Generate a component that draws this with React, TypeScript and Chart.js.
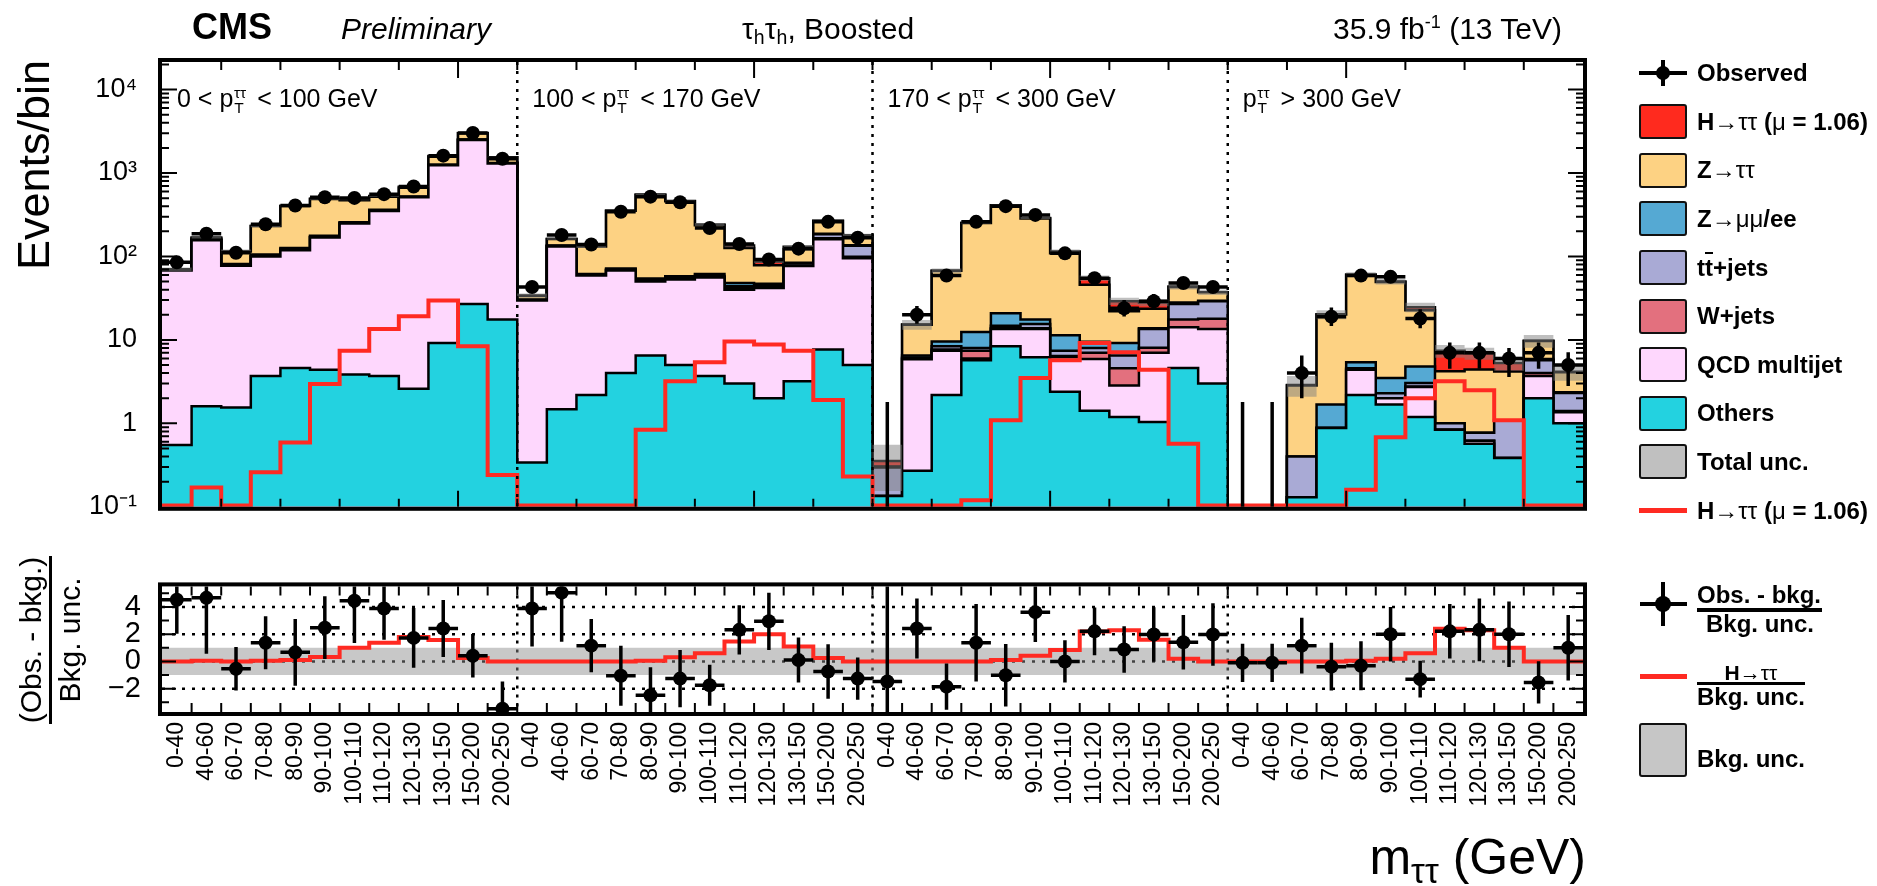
import React, { useEffect, useRef } from 'react';
import { Chart, registerables } from 'chart.js';

Chart.register(...registerables);

const FONT = "'Liberation Sans', Arimo, Arial, Helvetica, sans-serif";
Chart.defaults.font.family = FONT;

// ---------------- categories / labels ----------------
const binLabels = ['0-40', '40-60', '60-70', '70-80', '80-90', '90-100', '100-110', '110-120', '120-130', '130-150', '150-200', '200-250'];
const ptRanges = [
  { pre: '0 < ', post: ' < 100 GeV' },
  { pre: '100 < ', post: ' < 170 GeV' },
  { pre: '170 < ', post: ' < 300 GeV' },
  { pre: '', post: ' > 300 GeV' },
];
const categories = ptRanges.flatMap(() => binLabels);

// ---------------- stacked backgrounds (events / bin) ----------------
const others = [
  0.55, 1.6, 1.55, 3.7, 4.6, 4.4, 3.85, 3.7, 2.6, 9.2, 27, 17.6,
  0.34, 1.48, 2.19, 4.0, 6.5, 5.0, 3.7, 3.0, 2.0, 3.2, 7.7, 5.0,
  0.135, 0.27, 2.19, 5.7, 8.4, 6.2, 2.4, 1.42, 1.19, 1.04, 4.6, 3.0,
  0, 0, 0.13, 0.88, 2.19, 1.68, 1.19, 0.84, 0.57, 0.385, 2.0, 1.0,
];
const qcd = [
  67.4, 155, 76, 96, 114, 164, 245, 348, 509, 1232, 2462, 1280,
  29.3, 130.5, 56.8, 64, 43.5, 48, 52.3, 37, 40, 73.8, 153, 90,
  0, 5.6, 5.2, 0.3, 5.1, 7.3, 3.8, 4.5, 1.65, 6.0, 9.6, 10.5,
  0, 0, 0, 0, 2.2, 0.32, 1.53, 0, 0.05, 0, 1.7, 0.36,
];
const wjets = [
  0.3, 1, 1, 1.5, 2, 2, 2, 3, 3, 5, 8, 8,
  0.3, 1, 0.8, 1, 1, 1, 1, 2, 1, 1, 5, 4,
  0, 0.15, 0.3, 1.4, 0.3, 0.3, 0.2, 1.1, 1.73, 1.0, 3.4, 4.4,
  0, 0, 0, 0, 0, 0, 0.05, 0, 0, 0, 0.3, 0.05,
];
const ttbar = [
  0.3, 1, 1, 1.5, 2, 2, 2, 3, 3, 5, 8, 8,
  0.3, 1, 0.8, 1, 1, 1, 1.2, 2, 1.5, 5, 19, 35,
  0.16, 0.15, 0.7, 0.6, 1.0, 1.7, 1.0, 1.0, 1.93, 5.45, 9.4, 11.1,
  0, 0, 0.27, 0, 0.2, 0.3, 0.28, 0.16, 0.15, 0.7, 1.7, 0.9,
];
const zll = [
  0.4, 1.5, 1.5, 3, 4, 5, 5, 5, 4, 5, 8, 8,
  0.3, 1, 1.2, 1.5, 2.5, 3, 3.5, 4, 2.5, 1, 2, 2,
  0.005, 0.35, 1.2, 4.4, 6.1, 2.1, 4.0, 1.5, 2.7, 0.3, 1.0, 0.5,
  0, 0, 0, 0.8, 0.8, 1.2, 1.75, 0, 0, 0, 0.2, 0.05,
];
const ztt = [
  1.05, 7.9, 33.5, 126.3, 275.4, 310.6, 213, 155.3, 145.4, 312, 487, 224,
  3.2, 27, 70.2, 280.5, 493.5, 401, 174.3, 78, 31.5, 39, 79.3, 42.6,
  0.005, 8.7, 57.7, 239.6, 389, 268.4, 97.6, 36.2, 12.8, 9.9, 15, 7.8,
  0, 0, 2.44, 18.5, 55, 45.9, 17.8, 3.2, 3.66, 3.1, 3.8, 1.74,
];
const htt = [
  0.05, 0.17, 0.05, 0.26, 0.59, 2.97, 7.4, 13.5, 19.2, 29.6, 8.4, 0.24,
  0.05, 0.05, 0.05, 0.05, 0.84, 3.2, 5.4, 9.6, 8.8, 7.4, 1.9, 0.23,
  0.05, 0.05, 0.05, 0.12, 1.09, 3.5, 5.7, 9.2, 7.1, 4.4, 0.57, 0.05,
  0.05, 0.05, 0.05, 0.05, 0.16, 0.68, 2.0, 3.2, 2.5, 1.09, 0.05, 0.05,
];
const bkgUnc = [
  3.7, 4.0, 6.6, 8, 8.2, 9.8, 7.2, 10.3, 11.9, 19, 34, 19,
  2.3, 3.75, 6.05, 8.4, 11, 10, 9.9, 6.6, 4.6, 6.7, 8, 8.4,
  0.2, 2.0, 4.5, 5.65, 8.7, 8.0, 6.7, 4.2, 2.9, 2.7, 3.5, 2.9,
  0, 0, 0.8, 2.5, 4.3, 3.8, 3.2, 1.3, 1.15, 1.0, 1.7, 0.9,
];

// ---------------- observed ----------------
const observed = [
  85, 187, 111, 243, 408, 512, 503, 558, 688, 1614, 3015, 1480,
  43, 181, 139, 343, 521, 446, 219, 141, 92, 124, 260, 168,
  0, 20, 59, 260, 401, 315, 109, 55, 24, 29, 48, 43,
  0, 0, 4, 19, 59, 57, 18, 7, 7, 6, 7, 5,
];
const obsErrLo = [
  9.2, 13.7, 10.5, 15.6, 20.2, 22.6, 22.4, 23.6, 26.2, 40.2, 54.9, 38.5,
  6.6, 13.5, 11.8, 18.5, 22.8, 21.1, 14.8, 11.9, 9.6, 11.1, 16.1, 13.0,
  0, 4.4, 7.7, 16.1, 20.0, 17.7, 10.4, 7.4, 4.9, 5.4, 6.9, 6.6,
  0, 0, 2.0, 4.3, 7.7, 7.5, 4.2, 2.5, 2.5, 2.4, 2.5, 2.2,
];
const obsErrHi = [
  9.2, 13.7, 10.5, 15.6, 20.2, 22.6, 22.4, 23.6, 26.2, 40.2, 54.9, 38.5,
  7.6, 14.5, 12.8, 19.5, 23.8, 22.1, 15.8, 12.9, 10.6, 12.1, 17.1, 14.0,
  1.8, 5.5, 8.7, 17.1, 21.0, 18.7, 11.5, 8.5, 6.0, 6.4, 7.9, 7.6,
  1.8, 1.8, 2.5, 5.4, 8.7, 8.6, 5.3, 2.3, 2.3, 2.0, 2.3, 2.1,
];

// ---------------- ratio panel ----------------
const pull = [
  4.53, 4.67, -0.53, 1.37, 0.67, 2.48, 4.46, 3.89, 1.73, 2.42, 0.42, -3.47,
  3.89, 5.05, 1.16, -1.05, -2.48, -1.26, -1.75, 2.32, 2.95, 0.1, -0.74, -1.26,
  -1.47, 2.42, -1.85, 1.37, -1.01, 3.62, 0, 2.21, 0.88, 1.98, 1.41, 1.98,
  -0.1, -0.1, 1.16, -0.38, -0.32, 2.0, -1.3, 2.21, 2.32, 2.0, -1.54, 1.01,
];
const pullErr = [
  2.5, 4.1, 1.6, 1.95, 2.45, 2.3, 3.1, 2.3, 2.2, 2.1, 1.6, 2.0,
  2.8, 3.6, 1.95, 2.2, 2.06, 2.1, 1.5, 1.8, 2.1, 1.65, 2.0, 1.55,
  10, 2.2, 1.7, 2.85, 2.3, 2.2, 1.55, 1.75, 1.7, 2.0, 2.0, 2.3,
  1.4, 1.4, 2.05, 1.75, 1.8, 2.0, 1.35, 2.0, 2.3, 2.4, 1.55, 2.4,
];
const sigOverUnc = [
  0, 0.05, 0, 0.05, 0.1, 0.32, 1.0, 1.37, 1.8, 1.58, 0.25, 0,
  0, 0, 0, 0, 0.05, 0.3, 0.6, 1.47, 2.0, 1.1, 0.25, 0,
  0, 0, 0, 0, 0.1, 0.42, 0.84, 2.2, 2.3, 1.6, 0.2, 0,
  0, 0, 0, 0, 0.05, 0.2, 0.6, 2.4, 2.3, 1.0, 0, 0,
];
const ratioBand = [-1, 1];

// ---------------- ticks ----------------
const topTickValues = [0.1, 1, 10, 100, 1000, 10000];
const topTickLabels = ['10\u207B\u00B9', '1', '10', '10\u00B2', '10\u00B3', '10\u2074'];
const ratioTickValues = [-2, 0, 2, 4];
const ratioTickLabels = ['\u22122', '0', '2', '4'];

// ---------------- styles ----------------
const stackComponents = [others, qcd, wjets, ttbar, zll, ztt, htt];
const stackNames = ['Others', 'QCD multijet', 'W+jets', 'tt\u0304+jets', 'Z\u2192\u03BC\u03BC/ee', 'Z\u2192\u03C4\u03C4', 'H\u2192\u03C4\u03C4'];
const stackColors = ['#23D2E0', '#FED7FD', '#E3707E', '#A9AAD5', '#55A9D3', '#FDD283', '#FF2A1E'];
const SIG_RED = '#FF2A22';

const legendLabels = ['Observed', 'H\u2192\u03C4\u03C4 (\u03BC = 1.06)', 'Z\u2192\u03C4\u03C4', 'Z\u2192\u03BC\u03BC/ee', 'tt\u0304+jets', 'W+jets', 'QCD multijet', 'Others', 'Total unc.', 'H\u2192\u03C4\u03C4 (\u03BC = 1.06)'];
const legendKinds = ['marker', 'box', 'box', 'box', 'box', 'box', 'box', 'box', 'box', 'line'];
const legendColors = ['#000', '#FF2A1E', '#FDD283', '#55A9D3', '#A9AAD5', '#E3707E', '#FED7FD', '#23D2E0', '#C0C0C0', SIG_RED];

// ---------------- geometry ----------------
const W = 1877;
const TOP_H = 548;
const BOT_H = 338;
const PLOT_L = 162;
const PLOT_R = 1583;
const TOP_T = 62;
const TOP_B = 531;
const BOT_T = 566;
const BOT_B = 712;
const Y_MIN = 0.1;
const Y_MAX = 21400;
const R_MIN = -3.71;
const R_MAX = 5.51;
const NB = categories.length;
const PB = binLabels.length;

const steps = (vals: number[]) => {
  const pts = vals.map((v, i) => ({ x: i, y: v }));
  pts.push({ x: vals.length, y: vals[vals.length - 1] });
  return pts;
};
const pos = (v: number) => (v > 0 ? v : 1e-4);

function clipArea(ctx: CanvasRenderingContext2D, a: any) {
  ctx.beginPath();
  ctx.rect(a.left, a.top, a.right - a.left, a.bottom - a.top);
  ctx.clip();
}

function drawFrame(chart: any, xTicks: { v: number; len: number }[], yTicks: { v: number; len: number }[]) {
  const { ctx, chartArea: a, scales } = chart;
  const x = scales.x;
  const y = scales.y;
  ctx.save();
  ctx.strokeStyle = '#000';
  ctx.lineWidth = 2;
  ctx.setLineDash([]);
  for (const t of xTicks) {
    const px = x.getPixelForValue(t.v);
    ctx.beginPath();
    ctx.moveTo(px, a.top);
    ctx.lineTo(px, a.top + t.len);
    ctx.moveTo(px, a.bottom);
    ctx.lineTo(px, a.bottom - t.len);
    ctx.stroke();
  }
  for (const t of yTicks) {
    const py = y.getPixelForValue(t.v);
    ctx.beginPath();
    ctx.moveTo(a.left, py);
    ctx.lineTo(a.left + t.len, py);
    ctx.moveTo(a.right, py);
    ctx.lineTo(a.right - t.len, py);
    ctx.stroke();
  }
  ctx.lineWidth = 4;
  ctx.strokeRect(a.left - 2, a.top - 2, a.right - a.left + 4, a.bottom - a.top + 4);
  ctx.restore();
}

function drawDividers(chart: any) {
  const { ctx, chartArea: a, scales } = chart;
  ctx.save();
  ctx.strokeStyle = '#000';
  ctx.lineWidth = 2.5;
  ctx.setLineDash([3, 6]);
  for (let p = 1; p < ptRanges.length; p++) {
    const xp = scales.x.getPixelForValue(p * PB);
    ctx.beginPath();
    ctx.moveTo(xp, a.top);
    ctx.lineTo(xp, a.bottom);
    ctx.stroke();
  }
  ctx.restore();
}

function topConfig(): any {
  const cums: number[][] = [];
  stackComponents.forEach((c, k) => cums.push(c.map((v, i) => v + (k ? cums[k - 1][i] : 0))));
  const total = cums[cums.length - 1];
  const stackSets = cums.map((vals, k) => ({
    label: stackNames[k],
    data: steps(vals.map(pos)),
    stepped: 'before',
    fill: 'start',
    backgroundColor: stackColors[k],
    borderColor: '#000',
    borderWidth: 2.5,
    pointRadius: 0,
    order: 4 + k,
  }));
  const datasets = [
    {
      label: 'Observed',
      data: observed.map((v, i) => ({ x: i + 0.5, y: v > 0 ? v : null })),
      showLine: false,
      pointRadius: 7,
      pointHoverRadius: 7,
      pointBackgroundColor: '#000',
      pointBorderColor: '#000',
      pointBorderWidth: 0,
      order: 0,
    },
    {
      label: 'H line',
      data: steps(htt.map((v) => Math.max(v, Y_MIN * 1.04))),
      stepped: 'before',
      fill: false,
      borderColor: SIG_RED,
      borderWidth: 4,
      pointRadius: 0,
      order: 1,
    },
    {
      label: 'Total unc. up',
      data: steps(total.map((v, i) => pos(v + bkgUnc[i]))),
      stepped: 'before',
      fill: '+1',
      backgroundColor: 'rgba(128,128,128,0.5)',
      borderColor: 'transparent',
      borderWidth: 0,
      pointRadius: 0,
      order: 2,
    },
    {
      label: 'Total unc. down',
      data: steps(total.map((v, i) => pos(v - bkgUnc[i]))),
      stepped: 'before',
      fill: false,
      borderColor: 'transparent',
      borderWidth: 0,
      pointRadius: 0,
      order: 3,
    },
    ...stackSets,
  ];

  const xTicks: { v: number; len: number }[] = [];
  for (let k = 2; k < NB; k += 2) xTicks.push({ v: k, len: k % 10 === 0 ? 16 : 8 });
  const yTicks: { v: number; len: number }[] = [];
  for (let d = -1; d <= 4; d++) {
    for (let m = 1; m <= 9; m++) {
      const v = m * Math.pow(10, d);
      if (v > Y_MIN * 1.001 && v < Y_MAX) yTicks.push({ v, len: m === 1 ? 15 : 7 });
    }
  }

  const deco = {
    id: 'topDeco',
    afterDatasetsDraw(chart: any) {
      const { ctx, chartArea: a, scales } = chart;
      const x = scales.x;
      const y = scales.y;
      ctx.save();
      clipArea(ctx, a);
      ctx.strokeStyle = '#000';
      ctx.lineWidth = 3.5;
      observed.forEach((v, i) => {
        const xc = x.getPixelForValue(i + 0.5);
        const lo = v - obsErrLo[i];
        const yLo = lo > 0 ? y.getPixelForValue(lo) : a.bottom + 5;
        const yHi = y.getPixelForValue(v + obsErrHi[i]);
        ctx.beginPath();
        ctx.moveTo(xc, yLo);
        ctx.lineTo(xc, yHi);
        ctx.stroke();
        if (v > 0) {
          const yc = y.getPixelForValue(v);
          ctx.beginPath();
          ctx.moveTo(x.getPixelForValue(i), yc);
          ctx.lineTo(x.getPixelForValue(i + 1), yc);
          ctx.stroke();
        }
      });
      ctx.restore();
      drawDividers(chart);
    },
    afterDraw(chart: any) {
      drawFrame(chart, xTicks, yTicks);
    },
  };

  return {
    type: 'line',
    data: { datasets },
    options: {
      animation: false,
      responsive: false,
      maintainAspectRatio: false,
      events: [],
      layout: { padding: { left: 0, right: W - PLOT_R, top: TOP_T, bottom: TOP_H - TOP_B } },
      scales: {
        x: { type: 'linear', min: 0, max: NB, display: false },
        y: {
          type: 'logarithmic',
          min: Y_MIN,
          max: Y_MAX,
          afterFit: (s: any) => {
            s.width = PLOT_L;
          },
          afterBuildTicks: (s: any) => {
            s.ticks = topTickValues.map((v) => ({ value: v }));
          },
          grid: { display: false, drawTicks: false },
          border: { display: false },
          ticks: {
            autoSkip: false,
            callback: (_v: any, i: number) => topTickLabels[i],
            font: { family: FONT, size: 27 },
            color: '#000',
            padding: 25,
          },
        },
      },
      plugins: { legend: { display: false }, tooltip: { enabled: false } },
    },
    plugins: [deco],
  };
}

function bottomConfig(): any {
  const datasets = [
    {
      label: 'Obs. - bkg.',
      data: pull.map((v, i) => ({ x: i + 0.5, y: v })),
      showLine: false,
      pointRadius: 7,
      pointHoverRadius: 7,
      pointBackgroundColor: '#000',
      pointBorderColor: '#000',
      pointBorderWidth: 0,
      order: 0,
    },
    {
      label: 'H/unc',
      data: steps(sigOverUnc),
      stepped: 'before',
      fill: false,
      borderColor: SIG_RED,
      borderWidth: 4,
      pointRadius: 0,
      order: 1,
    },
    {
      label: 'Bkg. unc. up',
      data: [{ x: 0, y: ratioBand[1] }, { x: NB, y: ratioBand[1] }],
      fill: '+1',
      backgroundColor: 'rgba(140,140,140,0.48)',
      borderColor: 'transparent',
      borderWidth: 0,
      pointRadius: 0,
      order: 2,
    },
    {
      label: 'Bkg. unc. down',
      data: [{ x: 0, y: ratioBand[0] }, { x: NB, y: ratioBand[0] }],
      fill: false,
      borderColor: 'transparent',
      borderWidth: 0,
      pointRadius: 0,
      order: 3,
    },
  ];

  const xTicks: { v: number; len: number }[] = [];
  for (let k = 1; k < NB; k++) xTicks.push({ v: k, len: 9 });
  const yTicks: { v: number; len: number }[] = [];
  for (let k = -3; k <= 5; k++) yTicks.push({ v: k, len: k % 2 === 0 ? 14 : 7 });

  const deco = {
    id: 'ratioDeco',
    beforeDatasetsDraw(chart: any) {
      const { ctx, chartArea: a, scales } = chart;
      ctx.save();
      ctx.strokeStyle = '#000';
      ctx.lineWidth = 2.5;
      ctx.setLineDash([3, 7]);
      ratioTickValues.forEach((v) => {
        const py = scales.y.getPixelForValue(v);
        ctx.beginPath();
        ctx.moveTo(a.left, py);
        ctx.lineTo(a.right, py);
        ctx.stroke();
      });
      ctx.restore();
      drawDividers(chart);
    },
    afterDatasetsDraw(chart: any) {
      const { ctx, chartArea: a, scales } = chart;
      const x = scales.x;
      const y = scales.y;
      ctx.save();
      clipArea(ctx, a);
      ctx.strokeStyle = '#000';
      ctx.lineWidth = 3.5;
      pull.forEach((v, i) => {
        const xc = x.getPixelForValue(i + 0.5);
        ctx.beginPath();
        ctx.moveTo(xc, y.getPixelForValue(v - pullErr[i]));
        ctx.lineTo(xc, y.getPixelForValue(v + pullErr[i]));
        ctx.stroke();
        const yc = y.getPixelForValue(v);
        ctx.beginPath();
        ctx.moveTo(x.getPixelForValue(i), yc);
        ctx.lineTo(x.getPixelForValue(i + 1), yc);
        ctx.stroke();
      });
      ctx.restore();
    },
    afterDraw(chart: any) {
      drawFrame(chart, xTicks, yTicks);
    },
  };

  return {
    type: 'line',
    data: { datasets },
    options: {
      animation: false,
      responsive: false,
      maintainAspectRatio: false,
      events: [],
      layout: { padding: { left: 0, right: W - PLOT_R, top: BOT_T - TOP_H, bottom: 0 } },
      scales: {
        x: {
          type: 'linear',
          min: 0,
          max: NB,
          position: 'bottom',
          afterFit: (s: any) => {
            s.height = BOT_H - (BOT_B - TOP_H);
          },
          afterBuildTicks: (s: any) => {
            s.ticks = categories.map((_c, i) => ({ value: i + 0.5 }));
          },
          grid: { display: false, drawTicks: false },
          border: { display: false },
          ticks: {
            autoSkip: false,
            minRotation: 90,
            maxRotation: 90,
            padding: 10,
            font: { family: FONT, size: 23 },
            color: '#000',
            callback: (_v: any, i: number) => categories[i],
          },
        },
        y: {
          type: 'linear',
          min: R_MIN,
          max: R_MAX,
          afterFit: (s: any) => {
            s.width = PLOT_L;
          },
          afterBuildTicks: (s: any) => {
            s.ticks = ratioTickValues.map((v) => ({ value: v }));
          },
          grid: { display: false, drawTicks: false },
          border: { display: false },
          ticks: {
            autoSkip: false,
            callback: (_v: any, i: number) => ratioTickLabels[i],
            font: { family: FONT, size: 29 },
            color: '#000',
            padding: 21,
          },
        },
      },
      plugins: { legend: { display: false }, tooltip: { enabled: false } },
    },
    plugins: [deco],
  };
}

// ---------------- HTML text helpers ----------------
function Txt({ x, y, size, bold, italic, align, children, style }: any) {
  const tx = align === 'right' ? 'translateX(-100%)' : align === 'center' ? 'translateX(-50%)' : 'none';
  return (
    <div
      style={{
        position: 'absolute',
        left: x,
        top: y - 0.846 * size,
        fontSize: size,
        lineHeight: 1,
        fontFamily: FONT,
        fontWeight: bold ? 'bold' : 'normal',
        fontStyle: italic ? 'italic' : 'normal',
        whiteSpace: 'nowrap',
        transform: tx,
        color: '#000',
        ...style,
      }}
    >
      {children}
    </div>
  );
}

function rich(s: string) {
  const parts = s.split(/(t\u0304|[\u2192\u03C4\u03BC]+)/);
  return parts.map((p, i) => {
    if (p === 't\u0304')
      return (
        <span key={i} style={{ textDecoration: 'overline', textDecorationThickness: '2px' }}>
          t
        </span>
      );
    if (/^[\u2192\u03C4\u03BC]+$/.test(p))
      return (
        <span key={i} style={{ fontWeight: 'normal' }}>
          {p}
        </span>
      );
    return <React.Fragment key={i}>{p}</React.Fragment>;
  });
}

const sub = (t: string, top = '0.3em', size = '0.65em') => (
  <span style={{ fontSize: size, position: 'relative', top }}>{t}</span>
);

function PT() {
  return (
    <>
      p
      <span style={{ display: 'inline-block', position: 'relative', width: '0.68em', height: '1em' }}>
        <span style={{ position: 'absolute', left: '0.04em', bottom: '0.41em', fontSize: '0.62em', lineHeight: 1 }}>
          {'\u03C4\u03C4'}
        </span>
        <span style={{ position: 'absolute', left: '0.06em', bottom: '-0.56em', fontSize: '0.62em', lineHeight: 1 }}>
          T
        </span>
      </span>
    </>
  );
}

export default function App() {
  const topRef = useRef<HTMLCanvasElement>(null);
  const botRef = useRef<HTMLCanvasElement>(null);

  useEffect(() => {
    const c1 = new Chart(topRef.current as HTMLCanvasElement, topConfig());
    const c2 = new Chart(botRef.current as HTMLCanvasElement, bottomConfig());
    return () => {
      c1.destroy();
      c2.destroy();
    };
  }, []);

  const panelW = (PLOT_R - PLOT_L) / ptRanges.length;
  const rowY = (k: number) => 73 + k * 48.6;

  return (
    <div style={{ position: 'absolute', left: 0, top: 0, width: W, height: 886, overflow: 'hidden', background: '#fff', fontFamily: FONT }}>
      <canvas ref={topRef} width={W} height={TOP_H} style={{ position: 'absolute', left: 0, top: 0, width: W, height: TOP_H, display: 'block' }} />
      <canvas ref={botRef} width={W} height={BOT_H} style={{ position: 'absolute', left: 0, top: TOP_H, width: W, height: BOT_H, display: 'block' }} />

      {/* header */}
      <Txt x={192} y={39} size={36} bold>
        CMS
      </Txt>
      <Txt x={341} y={39} size={30} italic>
        Preliminary
      </Txt>
      <Txt x={742} y={39} size={30}>
        {'\u03C4'}
        {sub('h')}
        {'\u03C4'}
        {sub('h')}, Boosted
      </Txt>
      <Txt x={1562} y={39} size={30} align="right">
        35.9 fb{sub('-1', '-0.6em', '0.6em')} (13 TeV)
      </Txt>

      {/* pT category labels */}
      {ptRanges.map((r, p) => (
        <Txt key={p} x={PLOT_L + p * panelW + 15} y={103} size={25}>
          {r.pre}
          <PT />
          {r.post}
        </Txt>
      ))}

      {/* axis titles */}
      <div
        style={{
          position: 'absolute',
          left: 11,
          top: 60 + 400,
          width: 400,
          textAlign: 'right',
          transformOrigin: '0 0',
          transform: 'rotate(-90deg)',
          fontSize: 45,
          lineHeight: 1,
          fontFamily: FONT,
          whiteSpace: 'nowrap',
        }}
      >
        Events/bin
      </div>
      <div
        style={{
          position: 'absolute',
          left: 52 - 110,
          top: 640 - 36,
          width: 220,
          height: 72,
          transform: 'rotate(-90deg)',
          display: 'flex',
          flexDirection: 'column',
          alignItems: 'center',
          fontFamily: FONT,
          fontSize: 30,
          lineHeight: 1,
          whiteSpace: 'nowrap',
        }}
      >
        <div style={{ height: 30 }}>(Obs. - bkg.)</div>
        <div style={{ width: 168, height: 3, background: '#000', marginTop: 3, marginBottom: 3 }} />
        <div style={{ height: 30 }}>Bkg. unc.</div>
      </div>
      <Txt x={1586} y={874} size={50} align="right">
        m{sub('\u03C4\u03C4', '0.28em', '0.7em')} (GeV)
      </Txt>

      {/* main legend */}
      {legendLabels.map((lab, k) => {
        const cy = rowY(k);
        const kind = legendKinds[k];
        return (
          <React.Fragment key={k}>
            {kind === 'box' && (
              <div
                style={{
                  position: 'absolute',
                  left: 1639,
                  top: cy - 17.5,
                  width: 48,
                  height: 35,
                  boxSizing: 'border-box',
                  border: '2.5px solid #111',
                  borderRadius: 3,
                  background: legendColors[k],
                }}
              />
            )}
            {kind === 'line' && (
              <div style={{ position: 'absolute', left: 1639, top: cy - 2.5, width: 48, height: 5, background: legendColors[k] }} />
            )}
            {kind === 'marker' && (
              <>
                <div style={{ position: 'absolute', left: 1639, top: cy - 2, width: 48, height: 4, background: '#000' }} />
                <div style={{ position: 'absolute', left: 1661, top: cy - 13, width: 4, height: 26, background: '#000' }} />
                <div style={{ position: 'absolute', left: 1656, top: cy - 7, width: 14, height: 14, borderRadius: 7, background: '#000' }} />
              </>
            )}
            <Txt x={1697} y={cy + 8.6} size={24} bold>
              {rich(lab)}
            </Txt>
          </React.Fragment>
        );
      })}

      {/* ratio legend */}
      <div style={{ position: 'absolute', left: 1640, top: 602, width: 47, height: 4, background: '#000' }} />
      <div style={{ position: 'absolute', left: 1661, top: 582, width: 4, height: 44, background: '#000' }} />
      <div style={{ position: 'absolute', left: 1655, top: 596, width: 16, height: 16, borderRadius: 8, background: '#000' }} />
      <Txt x={1697} y={603} size={24} bold>
        Obs. - bkg.
      </Txt>
      <div style={{ position: 'absolute', left: 1697, top: 608, width: 125, height: 3.5, background: '#000' }} />
      <Txt x={1760} y={632} size={24} bold align="center">
        Bkg. unc.
      </Txt>

      <div style={{ position: 'absolute', left: 1640, top: 673.5, width: 47, height: 5, background: SIG_RED }} />
      <Txt x={1751} y={680} size={21} bold align="center">
        {rich('H\u2192\u03C4\u03C4')}
      </Txt>
      <div style={{ position: 'absolute', left: 1697, top: 681.5, width: 108, height: 3.5, background: '#000' }} />
      <Txt x={1751} y={705} size={24} bold align="center">
        Bkg. unc.
      </Txt>

      <div
        style={{
          position: 'absolute',
          left: 1639,
          top: 723,
          width: 48,
          height: 54,
          boxSizing: 'border-box',
          border: '2.5px solid #111',
          borderRadius: 3,
          background: '#C6C6C6',
        }}
      />
      <Txt x={1697} y={767} size={24} bold>
        Bkg. unc.
      </Txt>
    </div>
  );
}
